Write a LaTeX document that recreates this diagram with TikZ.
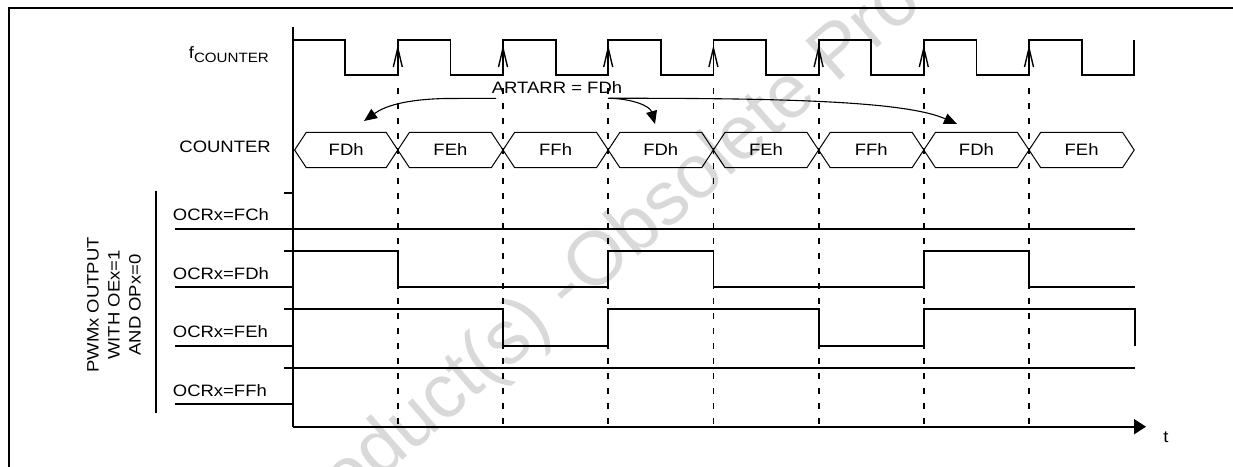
\documentclass[tikz,border=0pt]{standalone}
\usepackage{fontspec}
\setmainfont{Liberation Sans}[FakeStretch=1.12]
\newfontfamily\wmfont{Liberation Sans}
\usetikzlibrary{arrows.meta}
\begin{document}
\begin{tikzpicture}[x=1pt,y=-1pt,
  sig/.style={line width=1.8pt,line join=miter},
  thin/.style={line width=1pt},
  guide/.style={line width=1.8pt,dash pattern=on 6pt off 9pt},
  lbl/.style={font=\fontsize{16.5}{19}\selectfont,inner sep=0pt},
  wm/.style={font=\wmfont\fontsize{76}{76}\selectfont,text=black!15,inner sep=0pt,rotate=41},
  curvearrow/.style={line width=1.1pt,-{Triangle[length=13pt,width=11pt]}}]
\useasboundingbox (0,0) rectangle (1233,466);
% watermark
\node[wm,anchor=base west] (wm2) at (590,298) {Obsolete Product(s)};
\node[wm,anchor=base east] (wm1) at (590,298) {Product(s) -\ };
% frame
\draw[line width=2pt] (8.7,470) -- (8.7,7.9) -- (1240,7.9);
% axes
\draw[sig] (292.6,27.3) -- (292.6,426.7);
\draw[sig,-{Triangle[length=12pt,width=15pt]}] (292.6,426.7) -- (1146,426.7);
\node[lbl] (t) at (1166,437) {t};
% clock
\draw[sig] (292.6,40) -- (345.2,40) -- (345.2,75) -- (397.8,75) -- (397.8,40)
  -- (450.4,40) -- (450.4,75) -- (503.0,75) -- (503.0,40)
  -- (555.6,40) -- (555.6,75) -- (608.2,75) -- (608.2,40)
  -- (660.8,40) -- (660.8,75) -- (713.4,75) -- (713.4,40)
  -- (766.0,40) -- (766.0,75) -- (818.6,75) -- (818.6,40)
  -- (871.2,40) -- (871.2,75) -- (923.8,75) -- (923.8,40)
  -- (976.4,40) -- (976.4,75) -- (1029.0,75) -- (1029.0,40)
  -- (1081.6,40) -- (1081.6,75) -- (1134.2,75) -- (1134.2,40);
\foreach \x in {397.8,503.0,608.2,713.4,818.6,923.8,1029.0}{
  \draw[line width=1.4pt] ({\x-4.5},67) -- (\x,48) -- ({\x+4.5},67);
  \draw[guide] (\x,88) -- (\x,426.7);
}
\node[lbl,anchor=base east] (fc) at (269,58) {f\raisebox{-4pt}{\fontsize{13.5}{13}\selectfont COUNTER}};
% counter
\node[lbl,anchor=base east] (cnt) at (271,152) {COUNTER};
\foreach \a/\b/\t in {294.6/397.8/FDh,397.8/503.0/FEh,503.0/608.2/FFh,608.2/713.4/FDh,713.4/818.6/FEh,818.6/923.8/FFh,923.8/1029.0/FDh,1029.0/1134.2/FEh}{
  \draw[thin] (\a,150) -- ({\a+11.7},132.3) -- ({\b-11.7},132.3) -- (\b,150) -- ({\b-11.7},167.7) -- ({\a+11.7},167.7) -- cycle;
  \node[lbl] at ({(\a+\b)/2},150) {\t};
}
% ARTARR
\node[lbl,anchor=base west] (art) at (491.7,93.3) {ARTARR = FDh};
\coordinate (artl) at (496,98.3);
\coordinate (artr) at (608,98.3);
\draw[curvearrow] (artl) -- (445,98.5) .. controls (405,99.5) and (385,106) .. (364,121);
\draw[curvearrow] (artr) .. controls (632,98.5) and (650,106) .. (655,124);
\draw[curvearrow] (artr) .. controls (780,98) and (905,101) .. (957,124);
% group label
\draw[sig] (156,190.7) -- (156,413.3);
\node[lbl,rotate=90,align=center] (pwm) at (114,305) {PWMx OUTPUT\\[2pt]WITH OEx=1\\[2pt]AND OPx=0};
% rows
\node[lbl,anchor=base west] (r1) at (172.7,220.7) {OCRx=FCh};
\node[lbl,anchor=base west] (r2) at (172.7,279) {OCRx=FDh};
\node[lbl,anchor=base west] (r3) at (172.7,337.5) {OCRx=FEh};
\node[lbl,anchor=base west] (r4) at (172.7,396) {OCRx=FFh};
\draw[sig] (284,192.7) -- (292.6,192.7);
\draw[sig] (175,229) -- (1135,229);
\draw[sig] (175,287.3) -- (292.6,287.3);
\draw[sig] (284,251) -- (397.8,251) -- (397.8,287.3) -- (608.2,287.3) -- (608.2,251) -- (713.4,251) -- (713.4,287.3) -- (923.8,287.3) -- (923.8,251) -- (1029,251) -- (1029,287.3) -- (1135,287.3);
\draw[sig] (175,345.7) -- (292.6,345.7);
\draw[sig] (284,309.3) -- (503,309.3) -- (503,345.7) -- (608.2,345.7) -- (608.2,309.3) -- (818.6,309.3) -- (818.6,345.7) -- (923.8,345.7) -- (923.8,309.3) -- (1135,309.3) -- (1135,345.7);
\draw[sig] (175,404) -- (292.6,404);
\draw[sig] (284,368.3) -- (1135,368.3);
\end{tikzpicture}
\end{document}
